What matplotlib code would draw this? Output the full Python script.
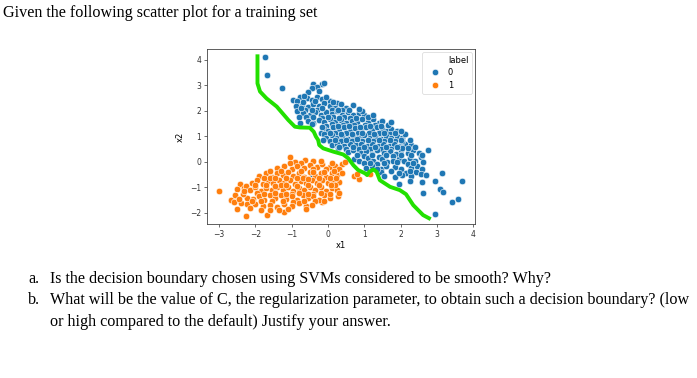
import matplotlib
matplotlib.use("Agg")
import matplotlib.pyplot as plt
from matplotlib.lines import Line2D

# ---------------- data ----------------
# label 0 (blue)
x0 = [-1.72, -1.68, -1.26,
      -0.40, -0.17, -0.12, -0.30, -0.45, -0.54, -0.25,
      -0.95, -0.77, -0.59, -0.31, -0.65, -0.45, -0.15, 0.05, -0.85, 0.25,
      -0.88, -0.72, -0.55, -0.40, -0.25, -0.10, 0.05, 0.20, 0.35, 0.50, 0.70, -0.62, 0.12, 0.40, -0.30,
      -0.86, -0.70, -0.50, -0.35, -0.20, -0.05, 0.10, 0.25, 0.40, 0.55, 0.70, 0.85, 1.00, -0.60, 0.15, 0.45, 0.95, -0.15, 0.62,
      -0.77, -0.55, -0.40, -0.25, -0.10, 0.05, 0.20, 0.35, 0.50, 0.65, 0.80, 0.95, 1.10, 1.25, 1.40, 1.50, 0.12, 0.42, 0.72, 1.02, 1.30, -0.05,
      -0.45, -0.10, -0.15, 0.00, 0.15, 0.30, 0.45, 0.60, 0.75, 0.90, 1.05, 1.20, 1.35, 1.48, 1.62, 1.75, 1.90, 0.20, 0.50, 0.82, 1.12, 1.42, 1.70, -0.20,
      -0.12, -0.05, 0.10, 0.25, 0.40, 0.55, 0.70, 0.85, 1.00, 1.15, 1.30, 1.45, 1.60, 1.75, 1.90, 2.05, 2.12, 0.35, 0.65, 0.95, 1.25, 1.55, 1.85, 0.05,
      -0.13, 0.10, 0.25, 0.45, 0.60, 0.78, 0.92, 1.08, 1.22, 1.38, 1.52, 1.68, 1.82, 1.98, 2.12, 2.28, 2.05, 0.50, 0.85, 1.15, 1.45, 1.75,
      0.28, 0.55, 0.70, 0.90, 1.05, 1.20, 1.35, 1.55, 1.70, 1.88, 2.02, 2.20, 2.35, 2.50, 2.76, 2.05, 2.40, 1.00, 1.40, 1.80,
      0.72, 0.85, 1.10, 1.25, 1.50, 1.62, 1.95, 2.10, 2.25, 2.40, 2.55, 2.62, 1.78, 2.20, 1.35, 0.98,
      1.05, 1.20, 1.45, 1.60, 1.85, 2.00, 2.30, 2.45, 2.58, 1.75, 2.15, 2.42,
      1.45, 1.55, 2.05, 2.30, 2.55, 2.70, 3.13, 1.85,
      1.96, 2.94, 3.70, 2.25, 2.60,
      2.62, 3.08, 3.17, 3.43, 3.59, 2.95, -0.44,
      -0.70, -0.35, 0.15, -0.05,
      -0.75, -0.45, -0.15, 0.28, 0.58, 0.85,
      -0.80, -0.40, 0.00, 0.30, 0.78, 1.10, 1.25,
      0.28, 0.58, 0.88, 1.15, 1.45, 1.65, 1.75,
      0.05, 0.35, 0.65, 0.95, 1.28, 1.55, 1.85, 2.00,
      0.20, 0.50, 0.80, 1.10, 1.40, 1.70, 2.00, 2.25,
      0.30, 0.68, 1.00, 1.30, 1.60, 1.90, 2.20,
      0.80, 1.20, 1.60, 2.00, 2.30, 2.60,
      1.15, 1.55, 1.90, 2.35,
      1.35, 1.95, 2.25]
y0 = [4.10, 3.40, 2.89,
      3.04, 3.07, 3.11, 2.95, 2.89, 2.76, 2.80,
      2.43, 2.56, 2.49, 2.53, 2.58, 2.42, 2.45, 2.40, 2.38, 2.32,
      2.20, 2.25, 2.15, 2.28, 2.18, 2.30, 2.20, 2.12, 2.28, 2.10, 2.23, 2.05, 2.05, 2.05, 2.05,
      2.00, 1.92, 1.85, 1.95, 1.82, 1.95, 1.88, 1.98, 1.85, 1.95, 1.82, 1.90, 1.85, 1.78, 1.78, 1.76, 1.98, 1.72, 1.72,
      1.54, 1.62, 1.52, 1.65, 1.55, 1.68, 1.58, 1.66, 1.52, 1.62, 1.55, 1.68, 1.58, 1.67, 1.52, 1.60, 1.48, 1.45, 1.45, 1.45, 1.45, 1.42,
      1.48, 1.28, 1.35, 1.22, 1.38, 1.28, 1.35, 1.22, 1.32, 1.25, 1.38, 1.26, 1.35, 1.31, 1.22, 1.30, 1.20, 1.15, 1.12, 1.15, 1.12, 1.15, 1.10, 1.15,
      1.08, 0.92, 1.05, 0.95, 1.02, 0.90, 1.00, 0.92, 1.05, 0.95, 1.02, 0.90, 1.00, 0.92, 1.03, 0.95, 1.08, 0.82, 0.80, 0.82, 0.80, 0.80, 0.82, 0.80,
      0.86, 0.65, 0.72, 0.62, 0.70, 0.65, 0.72, 0.62, 0.70, 0.62, 0.70, 0.62, 0.70, 0.62, 0.72, 0.65, 0.80, 0.50, 0.52, 0.50, 0.52, 0.50,
      0.53, 0.38, 0.45, 0.35, 0.42, 0.32, 0.45, 0.35, 0.42, 0.32, 0.45, 0.36, 0.45, 0.35, 0.46, 0.55, 0.58, 0.22, 0.20, 0.22,
      0.12, 0.05, 0.15, 0.02, 0.10, 0.00, 0.12, 0.02, 0.15, 0.05, 0.18, -0.02, 0.05, -0.10, -0.08, -0.05,
      -0.25, -0.18, -0.28, -0.15, -0.22, -0.30, -0.25, -0.15, -0.30, -0.35, -0.42, -0.40,
      -0.40, -0.55, -0.50, -0.55, -0.48, -0.52, -0.42, -0.60,
      -0.87, -0.74, -0.74, -0.75, -0.80,
      -1.24, -1.08, -1.19, -1.59, -1.46, -2.03, -0.48,
      2.35, 2.38, 2.33, 2.55,
      2.10, 2.02, 2.10, 2.05, 2.02, 2.08,
      1.78, 1.75, 1.76, 1.72, 1.72, 1.75, 1.82,
      1.42, 1.40, 1.38, 1.42, 1.40, 1.45, 1.55,
      1.12, 1.10, 1.10, 1.12, 1.10, 1.12, 1.12, 1.20,
      0.85, 0.85, 0.88, 0.85, 0.85, 0.85, 0.85, 0.85,
      0.58, 0.58, 0.58, 0.58, 0.58, 0.58, 0.55,
      0.25, 0.25, 0.25, 0.25, 0.25, 0.28,
      -0.05, -0.05, -0.02, -0.05,
      -0.30, -0.45, -0.35]

# label 1 (orange)
x1 = [-3.00, -2.26, -1.05, -1.67, -1.20, -0.61, -0.17, 0.38, 0.47, 0.72, 0.85, 0.81, 1.16,
      -2.68, -2.59, -2.42, -2.40, -2.50, -2.30, -2.22, -2.24, -2.55, -2.35,
      -0.63, -0.75, -0.40, -0.90,
      -1.40, -1.20, -1.00, -0.85, -0.65, -0.50, -0.30, -0.15, 0.05, 0.20, 0.30, -0.05,
      -1.90, -1.70, -1.55, -1.40, -1.25, -1.10, -0.95, -0.80, -0.65, -0.50, -0.35, -0.20, -0.05, 0.10, 0.25, 0.38,
      -2.10, -1.95, -1.80, -1.65, -1.50, -1.35, -1.20, -1.05, -0.90, -0.75, -0.60, -0.45, -0.30, -0.15, 0.00, 0.15, 0.30, -2.25, -1.60, -0.70, 0.05,
      -2.15, -2.00, -1.85, -1.70, -1.55, -1.40, -1.25, -1.10, -0.95, -0.80, -0.65, -0.50, -0.35, -0.20, -0.05, 0.10, 0.25, -1.95, -1.00, -0.40, 0.20, -1.30,
      -2.05, -1.90, -1.75, -1.60, -1.45, -1.30, -1.15, -1.00, -0.85, -0.70, -0.55, -0.40, -0.25, -0.10, 0.05, 0.28, -1.55, -0.95, -0.35,
      -2.00, -1.80, -1.60, -1.40, -1.20, -1.00, -0.80, -0.45, -1.85, -1.35,
      -1.05, -0.20, -0.40, 0.12,
      -1.60, -1.30, -0.75, -0.40, -0.10, 0.18,
      -1.75, -1.45, -1.15, -0.85, -0.55, -0.25, 0.22,
      -2.00, -1.70, -1.45, -1.15, -0.85, -0.55, -0.25, 0.08,
      -2.30, -1.75, -1.45, -1.15, -0.80, -0.55, -0.20, 0.05, 0.30,
      -2.10, -1.85, -1.25, -0.65, -0.10, -2.45,
      -2.15, -1.60, -1.10, -0.60, -2.50]
y1 = [-1.16, -2.12, 0.20, -2.08, -1.97, -1.72, -1.59, -0.09, 0.00, -0.56, -0.69, -0.49, -0.48,
      -1.50, -1.59, -0.87, -1.61, -1.08, -1.03, -1.40, -1.67, -1.30, -1.25,
      0.07, -0.05, 0.05, 0.00,
      -0.25, -0.15, -0.28, -0.18, -0.25, -0.12, -0.22, -0.10, -0.20, -0.15, -0.30, -0.30,
      -0.55, -0.45, -0.58, -0.42, -0.52, -0.40, -0.55, -0.45, -0.58, -0.40, -0.55, -0.45, -0.58, -0.42, -0.50, -0.45,
      -0.85, -0.72, -0.88, -0.75, -0.85, -0.70, -0.82, -0.72, -0.88, -0.75, -0.85, -0.70, -0.82, -0.72, -0.85, -0.75, -0.80, -0.95, -0.62, -0.65, -0.65,
      -1.10, -1.00, -1.15, -1.02, -1.12, -0.98, -1.10, -1.00, -1.15, -1.02, -1.12, -0.98, -1.10, -1.00, -1.15, -1.02, -1.10, -1.22, -1.25, -1.25, -0.92, -0.92,
      -1.45, -1.35, -1.48, -1.30, -1.42, -1.32, -1.45, -1.35, -1.48, -1.32, -1.42, -1.35, -1.48, -1.30, -1.40, -1.35, -1.55, -1.58, -1.55,
      -1.65, -1.75, -1.68, -1.78, -1.65, -1.72, -1.62, -1.68, -1.88, -1.90,
      -0.05, 0.02, -0.30, -0.05,
      -0.35, -0.35, -0.35, -0.38, -0.38, -0.35,
      -0.62, -0.65, -0.65, -0.65, -0.68, -0.62, -0.62,
      -0.90, -0.92, -0.95, -0.92, -0.95, -0.92, -0.92, -0.92,
      -1.15, -1.25, -1.22, -1.25, -1.22, -1.25, -1.22, -1.25, -1.22,
      -1.55, -1.55, -1.55, -1.55, -1.52, -1.45,
      -1.80, -1.88, -1.85, -1.85, -1.85]

# decision boundary (green curve)
bx = [-1.94, -1.94, -1.87, -1.69, -1.41, -1.09, -0.91, -0.77, -0.50, -0.39, -0.33, -0.27, -0.24, -0.13,
      0.15, 0.42, 0.56, 0.70, 0.83, 1.02, 1.08, 1.14, 1.25, 1.34, 1.43, 1.71, 1.98, 2.15, 2.35, 2.62, 2.83]
by = [4.22, 3.08, 2.76, 2.49, 2.17, 1.64, 1.38, 1.35, 1.34, 1.18, 0.99, 0.86, 0.66, 0.53,
      0.40, 0.29, 0.14, -0.13, -0.32, -0.45, -0.52, -0.39, -0.30, -0.39, -0.72, -0.98, -1.11, -1.27, -1.70, -2.09, -2.25]

xticks = [-3, -2, -1, 0, 1, 2, 3, 4]
yticks = [-2, -1, 0, 1, 2, 3, 4]
legend_title = "label"
labels = ["0", "1"]
colors = ["#1f77b4", "#ff7f0e"]

# ---------------- figure ----------------
W, H = 697, 378
fig = plt.figure(figsize=(W / 100, H / 100), dpi=100)
fig.patch.set_facecolor("white")

ax = fig.add_axes([207 / W, 1 - 224 / H, (475 - 207) / W, (224 - 49) / H])
ax.scatter(x0, y0, s=22, c=colors[0], edgecolors="white", linewidths=0.4, zorder=2)
ax.scatter(x1, y1, s=22, c=colors[1], edgecolors="white", linewidths=0.4, zorder=2)
ax.plot(bx, by, color="#22e000", lw=2.8, solid_capstyle="butt", zorder=3)

ax.set_xlim(-3.33, 4.05)
ax.set_ylim(-2.44, 4.43)
ax.set_xticks(xticks)
ax.set_yticks(yticks)
ax.tick_params(labelsize=5.5, length=2.5, width=0.5, pad=1.5, colors="#333333")
for sp in ax.spines.values():
    sp.set_linewidth(0.6)
    sp.set_color("#444444")
ax.set_xlabel("x1", fontsize=6, labelpad=1.5)
ax.set_ylabel("x2", fontsize=6, labelpad=4)

# seaborn (old style) legend: the hue name is an entry with an invisible handle
handles = [Line2D([], [], ls="", marker="")] + [
    Line2D([], [], marker="o", ls="", color=c, markeredgecolor="white",
           markeredgewidth=0.4, markersize=4.6) for c in colors]
leg = ax.legend(handles, [legend_title] + labels, loc="upper right", fontsize=6,
                frameon=True, borderpad=0.45, handletextpad=0.4,
                labelspacing=0.45, handlelength=2.2, borderaxespad=0.35)
leg.get_frame().set_linewidth(0.5)
leg.get_frame().set_edgecolor("#cccccc")

# ---------------- surrounding text ----------------
serif = ["Liberation Serif", "DejaVu Serif"]
fs = 11.6
fig.text(3 / W, 1 - 13 / H, "Given the following scatter plot for a training set",
         fontsize=fs, family=serif, va="center", ha="left")
fig.text(28 / W, 1 - 279 / H, "a.", fontsize=fs, family=serif, va="center", ha="left")
fig.text(50 / W, 1 - 279 / H, "Is the decision boundary chosen using SVMs considered to be smooth? Why?",
         fontsize=fs, family=serif, va="center", ha="left")
fig.text(28 / W, 1 - 300 / H, "b.", fontsize=fs, family=serif, va="center", ha="left")
fig.text(50 / W, 1 - 300 / H,
         "What will be the value of C, the regularization parameter, to obtain such a decision boundary? (low",
         fontsize=fs, family=serif, va="center", ha="left")
fig.text(50 / W, 1 - 322 / H, "or high compared to the default) Justify your answer.",
         fontsize=fs, family=serif, va="center", ha="left")

fig.savefig("out.png", dpi=100)
